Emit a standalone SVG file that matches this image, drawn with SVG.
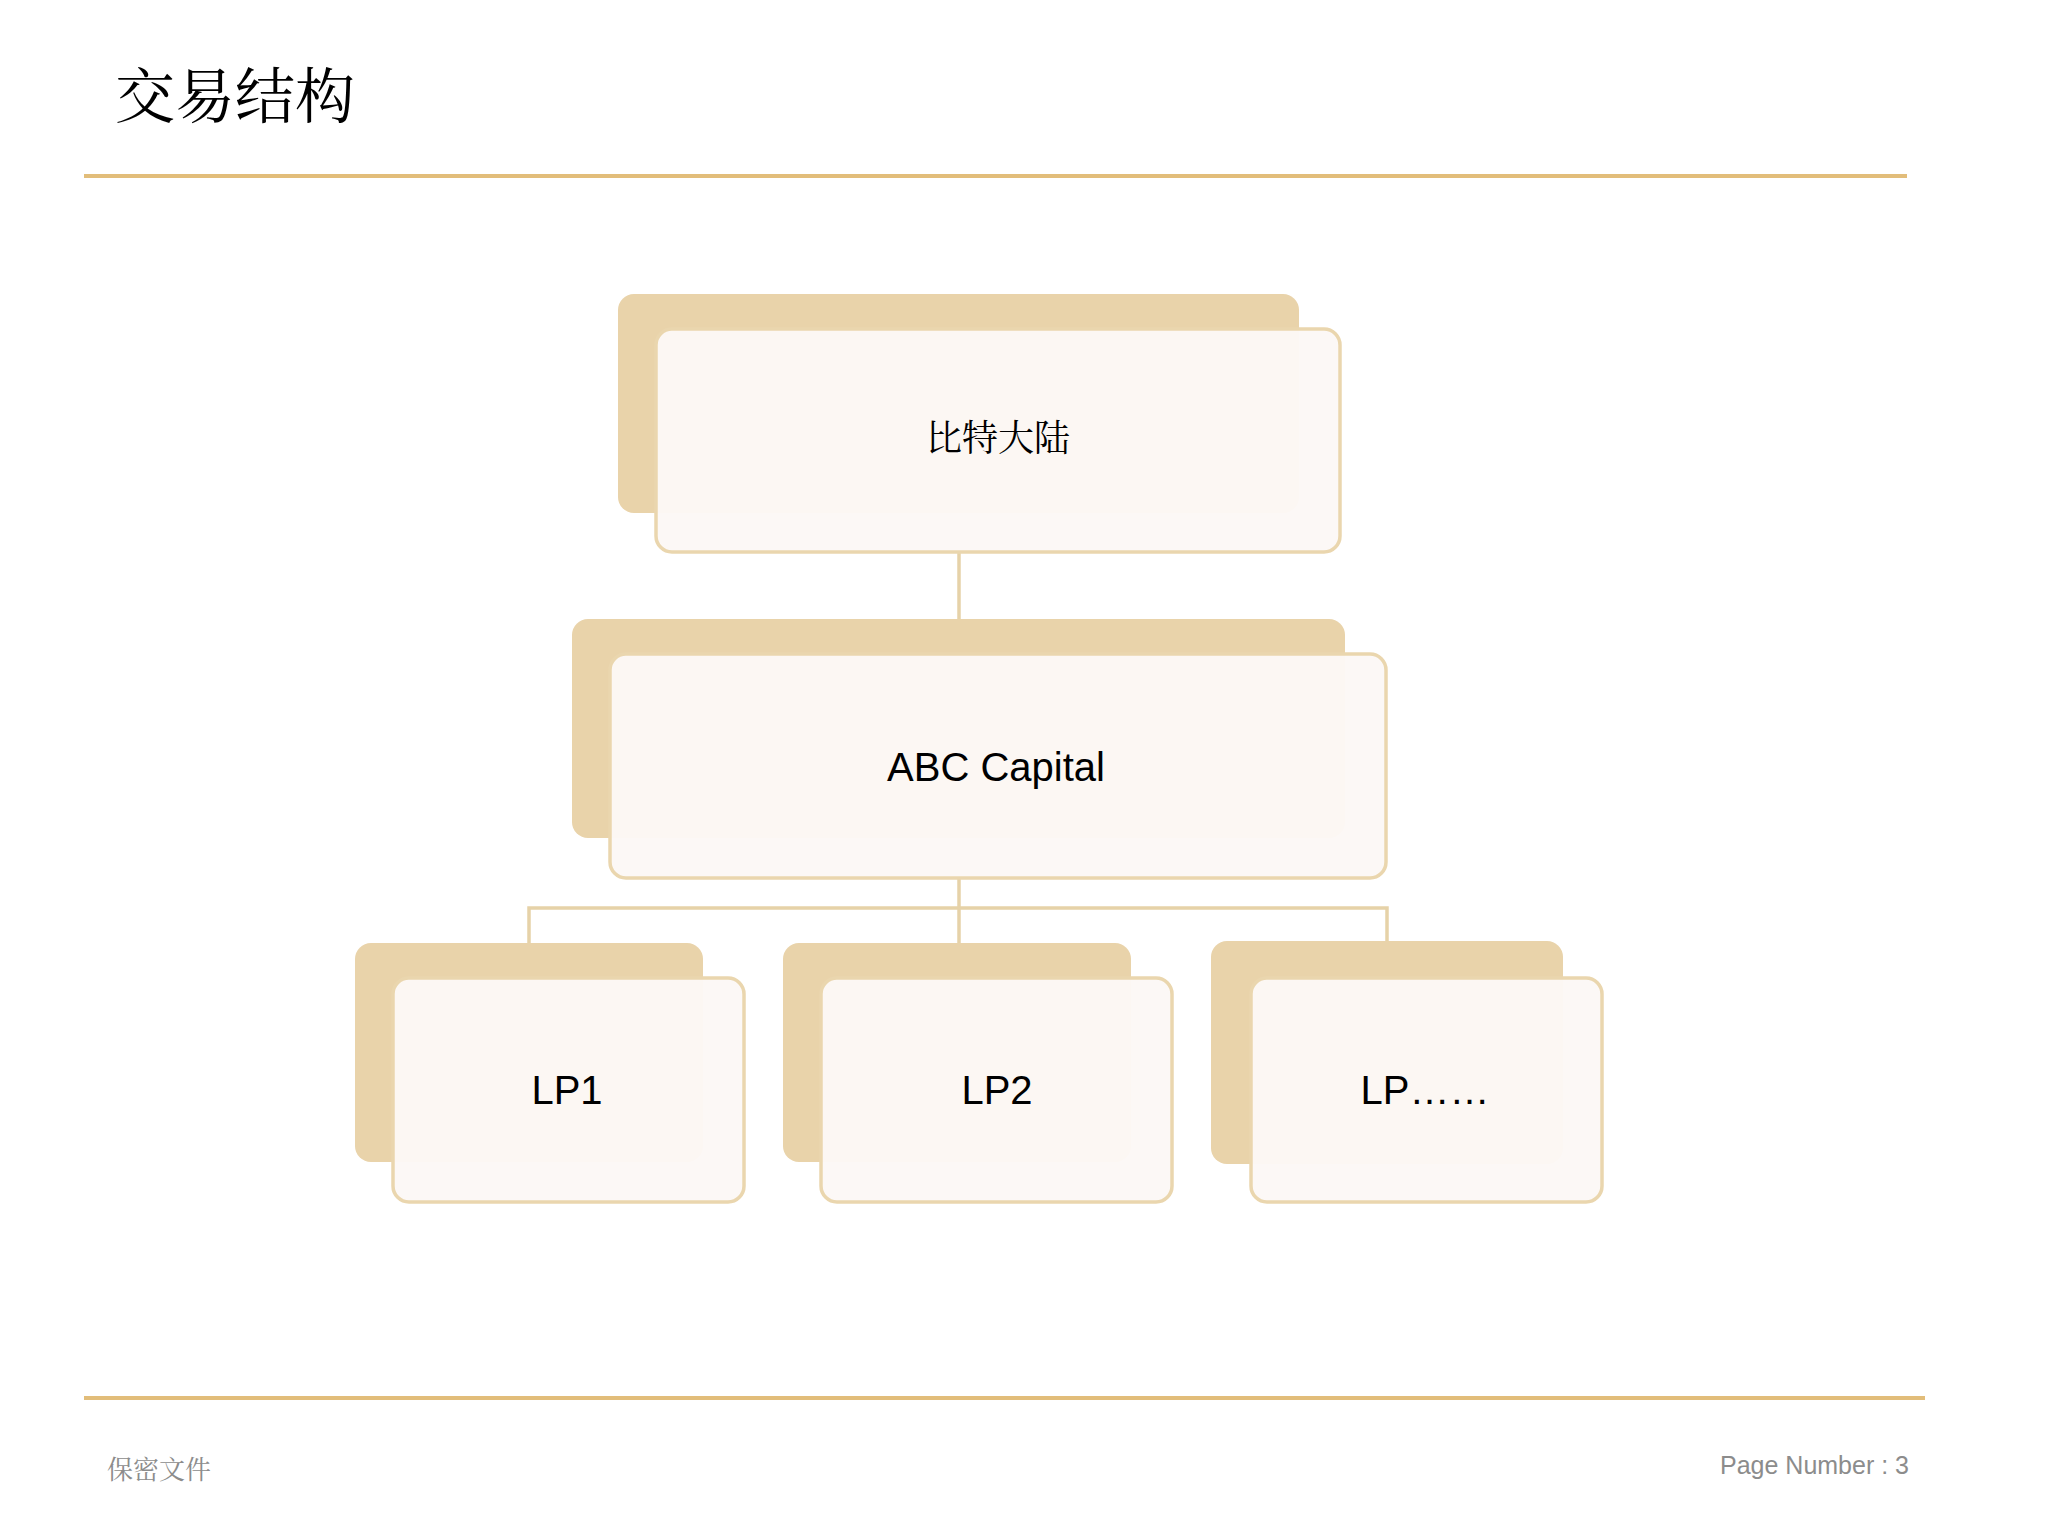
<svg xmlns="http://www.w3.org/2000/svg" width="2048" height="1536" viewBox="0 0 2048 1536">
<style>
.back{fill:#E9D3AA}
.front{fill:#FCF8F6;fill-opacity:0.96;stroke:#EAD6AE;stroke-width:3.5}
.lbl{font-family:"Liberation Sans",Arial,sans-serif;fill:#000;text-anchor:middle}
.cjk{font-family:"Noto Serif CJK SC","Noto Sans CJK SC",serif}
.con{stroke:#E6D2A8;stroke-width:3.5;fill:none}
.rule{stroke:#E2BD7A;stroke-width:4}
</style>
<rect width="2048" height="1536" fill="#FFFFFF"/>
<text x="115" y="118" class="cjk" font-size="60" fill="#000">交易结构</text>
<line class="rule" x1="84" y1="176" x2="1907" y2="176"/>
<line class="rule" x1="84" y1="1398" x2="1925" y2="1398"/>
<text x="107" y="1479" class="cjk" font-size="26" fill="#8C8C8C">保密文件</text>
<text x="1909" y="1474" font-family="Liberation Sans,Arial,sans-serif" font-size="25" fill="#8C8C8C" text-anchor="end">Page Number : 3</text>
<g id="connectors">
<line class="con" x1="959" y1="552" x2="959" y2="619"/>
<line class="con" x1="959" y1="878" x2="959" y2="943"/>
<polyline class="con" points="529,943 529,908 1387,908 1387,943"/>
</g>
<g id="n1">
<rect class="back" x="618" y="294" width="681" height="219" rx="16"/>
<rect class="front" x="656" y="329" width="684" height="223" rx="16"/>
<text x="998" y="451" class="lbl cjk" font-size="36">比特大陆</text>
</g>
<g id="n2">
<rect class="back" x="572" y="619" width="773" height="219" rx="16"/>
<rect class="front" x="610" y="654" width="776" height="224" rx="16"/>
<text x="996" y="781" class="lbl" font-size="40">ABC Capital</text>
</g>
<g id="lp1">
<rect class="back" x="355" y="943" width="348" height="219" rx="16"/>
<rect class="front" x="393" y="978" width="351" height="224" rx="16"/>
<text x="567" y="1104" class="lbl" font-size="40">LP1</text>
</g>
<g id="lp2">
<rect class="back" x="783" y="943" width="348" height="219" rx="16"/>
<rect class="front" x="821" y="978" width="351" height="224" rx="16"/>
<text x="997" y="1104" class="lbl" font-size="40">LP2</text>
</g>
<g id="lp3">
<rect class="back" x="1211" y="941" width="352" height="223" rx="16"/>
<rect class="front" x="1251" y="978" width="351" height="224" rx="16"/>
<text x="1425" y="1104" class="lbl" font-size="40">LP……</text>
</g>
</svg>
